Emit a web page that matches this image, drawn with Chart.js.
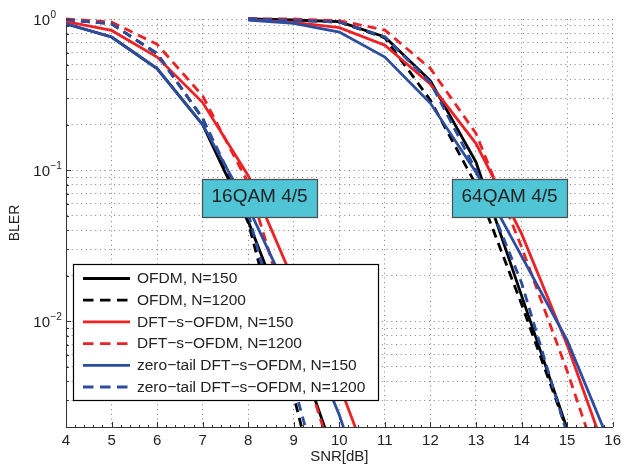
<!DOCTYPE html>
<html>
<head>
<meta charset="utf-8">
<script src="https://cdn.jsdelivr.net/npm/chart.js@4.4.1/dist/chart.umd.min.js"></script>
<style>
    html, body { margin: 0; padding: 0; background: #fff; }
    canvas { display: block; }
</style>
</head>
<body>
<canvas id="myChart" width="626" height="466"></canvas>
<script>
// SNR points of the two groups of curves
const snr16 = [4, 5, 6, 7, 8, 9, 10, 11];
const snr64 = [8, 9, 10, 11, 12, 13, 14, 15, 16];

// 16QAM 4/5 (BLER)
const ofdm150_16  = [0.93, 0.76, 0.47, 0.20, 0.046, 0.0077, 0.00105, 0.0001];
const ofdm1200_16 = [0.99, 0.93, 0.59, 0.22, 0.045, 0.0032, 0.0002, 0.00002];
const dft150_16   = [0.96, 0.84, 0.56, 0.28, 0.092, 0.0183, 0.0038, 0.0006];
const dft1200_16  = [1.0, 0.955, 0.68, 0.31, 0.082, 0.0083, 0.0009, 0.0001];
const zt150_16    = [0.93, 0.76, 0.47, 0.20, 0.057, 0.0129, 0.0024, 0.0003];
const zt1200_16   = [0.99, 0.93, 0.59, 0.22, 0.052, 0.0038, 0.0003, 0.00003];

// 64QAM 4/5 (BLER)
const ofdm150_64  = [1.0, 0.985, 0.96, 0.76, 0.39, 0.113, 0.0148, 0.00195, 0.0003];
const ofdm1200_64 = [1.0, 0.98, 0.955, 0.75, 0.29, 0.080, 0.013, 0.0019, 0.0002];
const dft150_64   = [0.99, 0.95, 0.877, 0.67, 0.37, 0.150, 0.038, 0.007, 0.001];
const dft1200_64  = [1.0, 1.0, 0.975, 0.845, 0.47, 0.175, 0.031, 0.0047, 0.0006];
const zt150_64    = [0.985, 0.935, 0.82, 0.56, 0.277, 0.097, 0.027, 0.0075, 0.0014];
const zt1200_64   = [1.0, 0.98, 0.955, 0.76, 0.38, 0.10, 0.018, 0.0018, 0.0002];

const legendLabels = [
    'OFDM, N=150',
    'OFDM, N=1200',
    'DFT\u2212s\u2212OFDM, N=150',
    'DFT\u2212s\u2212OFDM, N=1200',
    'zero\u2212tail DFT\u2212s\u2212OFDM, N=150',
    'zero\u2212tail DFT\u2212s\u2212OFDM, N=1200'
];

const xTickValues = [4, 5, 6, 7, 8, 9, 10, 11, 12, 13, 14, 15, 16];
const yMajor = [0.01, 0.1, 1];
const yMajorExp = ['\u22122', '\u22121', '0'];

const FONT = '"Liberation Sans", Arial, Helvetica, sans-serif';
const BLACK = '#000000';
const RED = '#ec2227';
const BLUE = '#2c4da0';
const DASH = [9, 6];

const series = [
    { label: legendLabels[0], color: BLACK, dash: [], d16: ofdm150_16, d64: ofdm150_64, order: 5 },
    { label: legendLabels[1], color: BLACK, dash: DASH, d16: ofdm1200_16, d64: ofdm1200_64, order: 4 },
    { label: legendLabels[2], color: RED, dash: [], d16: dft150_16, d64: dft150_64, order: 3 },
    { label: legendLabels[3], color: RED, dash: DASH, d16: dft1200_16, d64: dft1200_64, order: 2 },
    { label: legendLabels[4], color: BLUE, dash: [], d16: zt150_16, d64: zt150_64, order: 1 },
    { label: legendLabels[5], color: BLUE, dash: DASH, d16: zt1200_16, d64: zt1200_64, order: 0 }
];

// minor log ticks 2..9 x decade, plus the majors
const yTicks = [];
for (const dec of [0.001, 0.01, 0.1]) {
    for (let m = 1; m <= 9; m++) {
        const v = +(m * dec).toPrecision(3);
        if (v >= 0.002) yTicks.push(v);
    }
}
yTicks.push(1);

function toPoints(xs, ys) {
    return xs.map((x, i) => ({ x: x, y: ys[i] }));
}

const datasets = [];
for (const s of series) {
    for (const pts of [toPoints(snr16, s.d16), toPoints(snr64, s.d64)]) {
        datasets.push({
            label: s.label,
            data: pts,
            borderColor: s.color,
            backgroundColor: s.color,
            borderWidth: 2.8,
            borderDash: s.dash,
            pointRadius: 0,
            tension: 0,
            fill: false,
            order: s.order,
            clip: { left: 0, top: 5, right: 0, bottom: 0 }
        });
    }
}

const annotations = [
    { text: '16QAM 4/5', x: 6.99, y: 0.087 },
    { text: '64QAM 4/5', x: 12.47, y: 0.087 }
];

const matlabLook = {
    id: 'matlabLook',
    afterDatasetsDraw(chart) {
        const ctx = chart.ctx;
        const area = chart.chartArea;
        const xs = chart.scales.x;
        const ys = chart.scales.y;
        ctx.save();

        // inward tick marks
        ctx.strokeStyle = '#333';
        ctx.lineWidth = 1;
        ctx.setLineDash([]);
        ctx.beginPath();
        for (const v of yTicks) {
            const y = Math.round(ys.getPixelForValue(v)) + 0.5;
            const len = yMajor.includes(v) ? 5 : 3;
            ctx.moveTo(area.left, y);
            ctx.lineTo(area.left + len, y);
        }
        for (let i = 20; i <= 80; i++) {
            const x = Math.round(xs.getPixelForValue(i / 5)) + 0.5;
            const len = i % 5 === 0 ? 5 : 2;
            ctx.moveTo(x, area.bottom);
            ctx.lineTo(x, area.bottom - len);
        }
        ctx.stroke();

        // y labels 10^n
        ctx.fillStyle = '#222';
        ctx.textBaseline = 'alphabetic';
        yMajor.forEach((v, i) => {
            const y = ys.getPixelForValue(v);
            ctx.font = '15px ' + FONT;
            ctx.textAlign = 'right';
            ctx.fillText('10', 50, y + 5.5);
            ctx.font = '10px ' + FONT;
            ctx.textAlign = 'left';
            ctx.fillText(yMajorExp[i], 50.5, y - 1.5);
        });

        // text boxes
        ctx.font = '19px ' + FONT;
        for (const a of annotations) {
            const left = Math.round(xs.getPixelForValue(a.x)) + 0.5;
            const top = Math.round(ys.getPixelForValue(a.y)) + 0.5;
            const w = Math.round(ctx.measureText(a.text).width + 19);
            const h = 38;
            ctx.fillStyle = '#4fc5d6';
            ctx.fillRect(left, top, w, h);
            ctx.strokeStyle = '#4d4d4d';
            ctx.lineWidth = 1.2;
            ctx.strokeRect(left, top, w, h);
            ctx.fillStyle = '#222';
            ctx.textAlign = 'left';
            ctx.fillText(a.text, left + 9, top + 22);
        }

        // legend
        ctx.font = '15.5px ' + FONT;
        let maxW = 0;
        for (const s of series) maxW = Math.max(maxW, ctx.measureText(s.label).width);
        const lx = area.left + 7.5;
        const ly = 264.5;
        const lw = Math.round(71 + maxW + 6);
        const rowH = 21.7;
        const lh = Math.round(rowH * series.length + 6);
        ctx.fillStyle = '#fff';
        ctx.fillRect(lx, ly, lw, lh);
        ctx.strokeStyle = '#000';
        ctx.lineWidth = 1.2;
        ctx.strokeRect(lx, ly, lw, lh);
        series.forEach((s, i) => {
            const cy = ly + 14 + i * rowH;
            ctx.strokeStyle = s.color;
            ctx.lineWidth = 2.8;
            ctx.setLineDash(s.dash.length ? [10.5, 6.5] : []);
            ctx.beginPath();
            ctx.moveTo(lx + 9.5, cy);
            ctx.lineTo(lx + 56.5, cy);
            ctx.stroke();
            ctx.setLineDash([]);
            ctx.fillStyle = '#222';
            ctx.textAlign = 'left';
            ctx.textBaseline = 'middle';
            ctx.fillText(s.label, lx + 63.5, cy + 0.5);
        });
        ctx.restore();
    }
};

Chart.defaults.font.family = FONT;
Chart.defaults.color = '#222';

const ctx = document.getElementById('myChart').getContext('2d');
const chart = new Chart(ctx, {
    type: 'line',
    data: { datasets: datasets },
    options: {
        responsive: false,
        animation: false,
        devicePixelRatio: 1,
        layout: { padding: { left: 0, top: 19, right: 9, bottom: 0 } },
        plugins: { legend: { display: false }, tooltip: { enabled: false } },
        scales: {
            x: {
                type: 'linear',
                min: 4,
                max: 16,
                afterBuildTicks: (scale) => { scale.ticks = xTickValues.map(v => ({ value: v })); },
                afterFit: (scale) => { scale.height = 39; },
                ticks: { font: { size: 15 }, padding: 5, autoSkip: false, maxRotation: 0 },
                grid: { color: 'rgba(0,0,0,0.5)', lineWidth: 1, drawTicks: false },
                border: { display: true, color: '#333', width: 1, dash: [1, 3.7] },
                title: { display: true, text: 'SNR[dB]', font: { size: 15 }, padding: { top: 0, bottom: 0 } }
            },
            y: {
                type: 'logarithmic',
                min: 0.002,
                max: 1,
                afterBuildTicks: (scale) => { scale.ticks = yTicks.map(v => ({ value: v })); },
                afterFit: (scale) => { scale.width = 66; },
                ticks: { display: false, autoSkip: false },
                grid: { color: 'rgba(0,0,0,0.5)', lineWidth: 1, drawTicks: false },
                border: { display: true, color: '#333', width: 1, dash: [1, 3.7] },
                title: { display: true, text: 'BLER', font: { size: 14 }, padding: { top: 7, bottom: 0 } }
            }
        }
    },
    plugins: [matlabLook]
});
</script>
</body>
</html>
